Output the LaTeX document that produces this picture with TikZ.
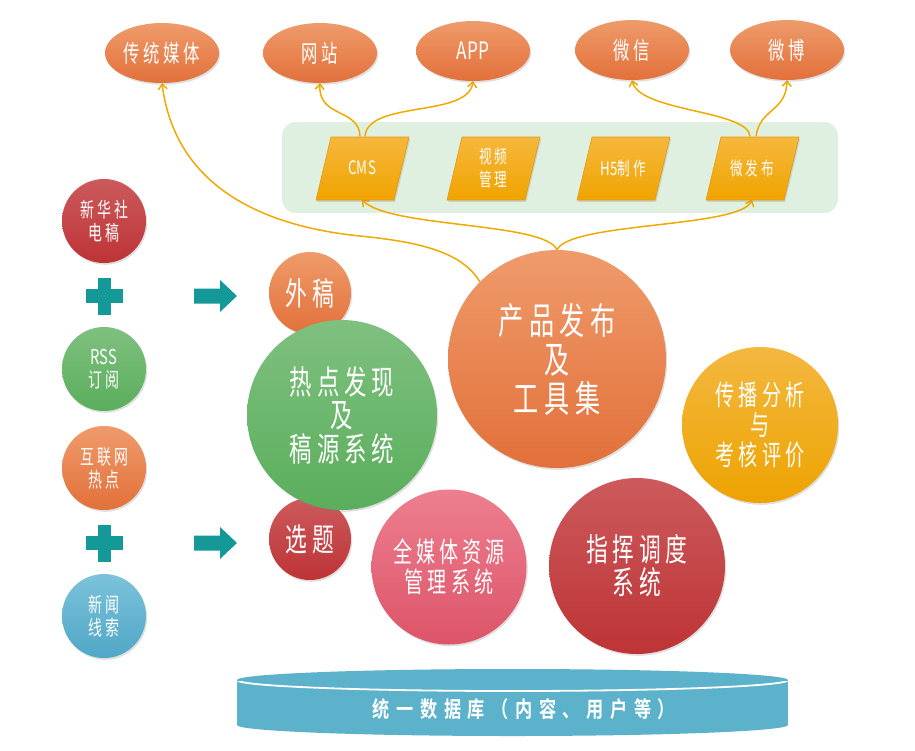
\documentclass[tikz,border=0pt]{standalone}
\usepackage{fontspec}
\newfontfamily\cjk[FakeStretch=0.68,LetterSpace=15]{Noto Sans CJK SC}
\newfontfamily\lat[FakeStretch=0.72,LetterSpace=2]{Noto Sans CJK SC}
\newfontfamily\cjkdb[FakeStretch=0.78,LetterSpace=30]{Noto Sans CJK SC Bold}
\usetikzlibrary{shadows,arrows.meta,shapes.geometric,backgrounds}
\definecolor{orT}{HTML}{EF9B6B}\definecolor{orB}{HTML}{E2703A}
\definecolor{redT}{HTML}{CC5A5C}\definecolor{redB}{HTML}{BE3336}
\definecolor{grT}{HTML}{7FC07F}\definecolor{grB}{HTML}{5AAE5C}
\definecolor{blT}{HTML}{7CC2DA}\definecolor{blB}{HTML}{4FA7C7}
\definecolor{pkT}{HTML}{ED7F90}\definecolor{pkB}{HTML}{DD5468}
\definecolor{ylT}{HTML}{F4B840}\definecolor{ylB}{HTML}{EDA300}
\definecolor{tealC}{HTML}{159898}
\definecolor{parT}{HTML}{F6B73C}\definecolor{parB}{HTML}{F0A400}\definecolor{parD}{HTML}{E39A10}
\definecolor{boxG}{HTML}{DFF0E1}
\definecolor{lineC}{HTML}{F0A900}
\definecolor{dbC}{HTML}{5DB2CB}
\tikzset{
  shad/.style={drop shadow={opacity=0.25,shadow xshift=1.2pt,shadow yshift=-1.8pt}},
  bub/.style={circle,inner sep=0pt,align=center,text=white,shad},
  orange/.style={top color=orT,bottom color=orB},
  red/.style={top color=redT,bottom color=redB},
  green/.style={top color=grT,bottom color=grB},
  blue/.style={top color=blT,bottom color=blB},
  pink/.style={top color=pkT,bottom color=pkB},
  yell/.style={top color=ylT,bottom color=ylB},
  small/.style={bub,minimum size=84pt,font=\cjk\fontsize{20.5}{23}\selectfont},
  mid/.style={bub,minimum size=82pt,font=\cjk\fontsize{32}{34}\selectfont},
  ell/.style={ellipse,minimum width=114pt,minimum height=60pt,inner sep=0pt,orange,text=white,shad,font=\cjk\fontsize{24}{26}\selectfont},
  ptext/.style={minimum width=60pt,minimum height=63pt,inner sep=0pt,align=center,text=white,font=\cjk\fontsize{18.5}{23}\selectfont},
  conn/.style={draw=lineC,line width=1.5pt,-{Straight Barb[length=5pt,width=9pt]}},
  tealfill/.style={fill=tealC}
}
\begin{document}
\begin{tikzpicture}[x=1pt,y=-1pt]
\useasboundingbox (0,0) rectangle (915,750);
% parallelograms
\foreach \c in {362,493,623,752}{
  \path[top color=parT,bottom color=parB,draw=parD,line width=0.6pt,shad]
    (\c-31,137) -- (\c+47,137) -- (\c+32,200) -- (\c-46,200) -- cycle;
}
\node[ptext] (cms) at (362,168) {\lat CMS};
\node[ptext] (vid) at (493,168) {视频\\管理};
\node[ptext] (h5)  at (623,168) {{\lat H5}制作};
\node[ptext] (wfb) at (752,168) {微发布};
% top ellipses
\node[ell] (trad) at (162,53) {传统媒体};
\node[ell] (web)  at (320,53) {网站};
\node[ell] (app)  at (473,51) {\lat APP};
\node[ell] (wx)   at (632,50) {微信};
\node[ell] (wb)   at (787,50) {微博};
% left column
\node[small,red]    (xhs) at (104,221) {新华社\\电稿};
\node[small,green]  (rss) at (104,369) {{\lat RSS}\\订阅};
\node[small,orange] (hlw) at (104,468) {互联网\\热点};
\node[small,blue]   (xwx) at (104,616) {新闻\\线索};
% plus signs
\foreach \py in {296,543}{
  \fill[tealfill] (86,\py-7) rectangle (123,\py+7);
  \fill[tealfill] (98,\py-18.5) rectangle (111,\py+18.5);
}
% block arrows
\foreach \py in {296,543}{
  \fill[tealfill] (194,\py-7.5) -- (220,\py-7.5) -- (220,\py-16) -- (237,\py) -- (220,\py+16) -- (220,\py+7.5) -- (194,\py+7.5) -- cycle;
}
% middle circles
\node[mid,orange] (wg) at (310,293) {外稿};
\node[mid,red]    (xt) at (310,539) {选题};
\node[bub,green,minimum size=190pt,font=\cjk\fontsize{33}{33.5}\selectfont] (rd) at (342,415) {热点发现\\及\\稿源系统};
\node[bub,orange,minimum size=218pt,font=\cjk\fontsize{37}{39}\selectfont] (prod) at (557,359) {产品发布\\及\\工具集};
\node[bub,yell,minimum size=156pt,font=\cjk\fontsize{28}{30}\selectfont] (cb) at (760,425) {传播分析\\与\\考核评价};
\node[bub,pink,minimum size=155pt,font=\cjk\fontsize{28}{30}\selectfont] (qmt) at (449,567) {全媒体资源\\管理系统};
\node[bub,red,minimum size=176pt,font=\cjk\fontsize{32}{33}\selectfont] (zh) at (637,566) {指挥调度\\系统};
% database cylinder
\fill[dbC] (237,680) rectangle (788,725);
\fill[dbC] (512.5,725) ellipse [x radius=275.5,y radius=11];
\fill[dbC] (512.5,680) ellipse [x radius=275.5,y radius=11];
\begin{scope}
  \clip (230,681) rectangle (800,700);
  \draw[white,line width=1.8pt] (512.5,680) ellipse [x radius=275.5,y radius=11];
\end{scope}
\node[text=white,font=\cjkdb\fontsize{22}{24}\selectfont] (db) at (524,709) {统一数据库（内容、用户等）};
% background: box and connectors
\begin{scope}[on background layer]
  \fill[boxG,rounded corners=14pt] (282,122) rectangle (838,213);
  \draw[conn] (prod.135) .. controls (462,252) and (420,242) .. (360,236)
              .. controls (260,226) and (175,185) .. (trad.south);
  \draw[conn] (prod.north) .. controls (545,222) and (390,228) .. (cms.south);
  \draw[conn] (prod.north) .. controls (570,222) and (740,228) .. (wfb.south);
  \draw[conn] ([xshift=-2pt]cms.north) .. controls (359,108) and (318,118) .. (web.south);
  \draw[conn] ([xshift=3pt]cms.north) .. controls (368,100) and (468,118) .. (app.south);
  \draw[conn] ([xshift=-2pt]wfb.north) .. controls (748,110) and (640,112) .. (wx.south);
  \draw[conn] ([xshift=4pt]wfb.north) .. controls (760,108) and (786,112) .. (wb.south);
\end{scope}
\end{tikzpicture}
\end{document}
